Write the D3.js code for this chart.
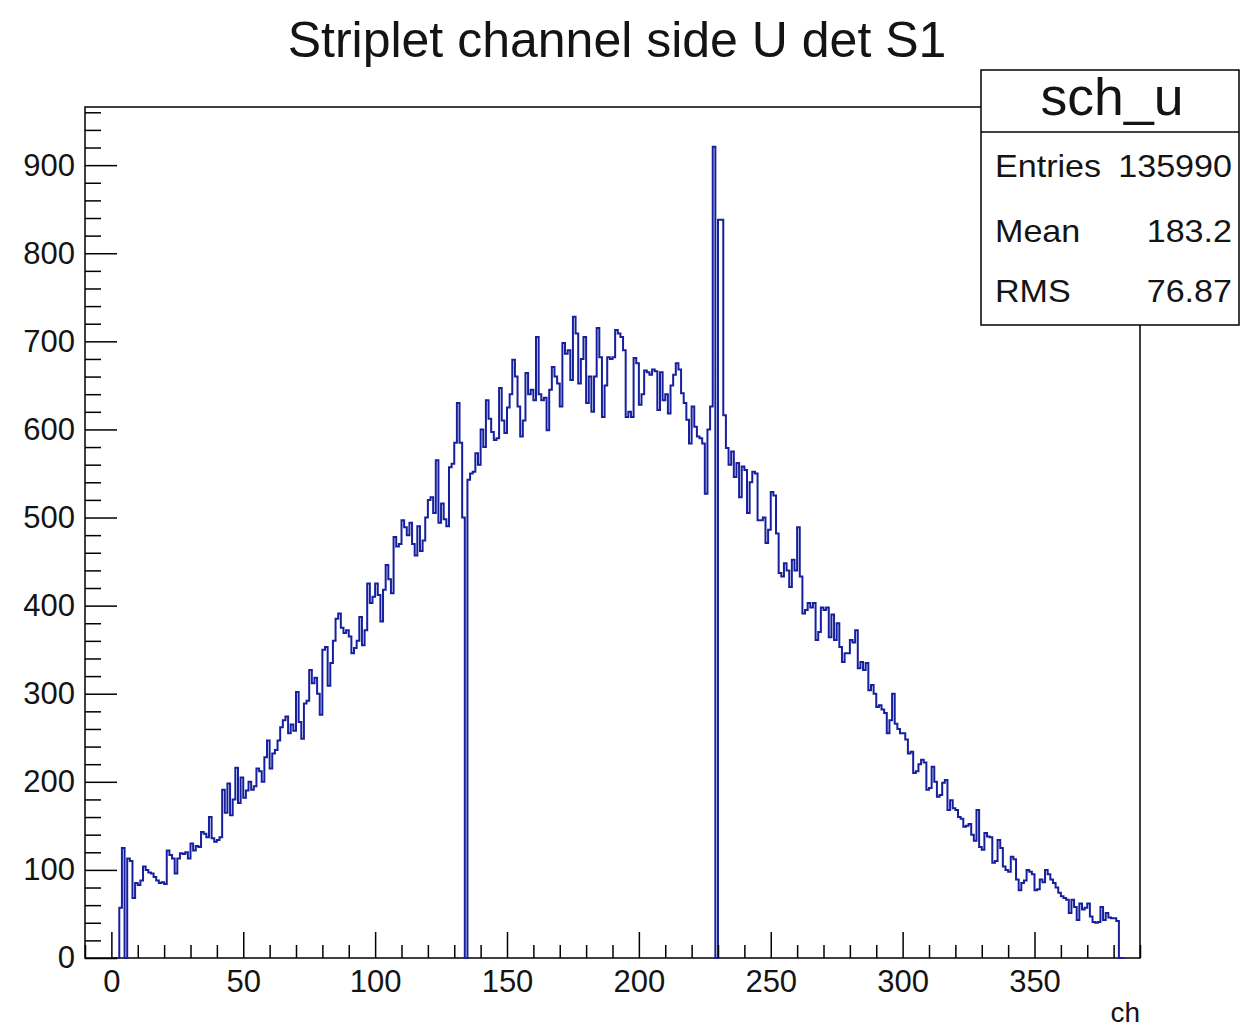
<!DOCTYPE html>
<html>
<head>
<meta charset="utf-8">
<script src="https://cdn.jsdelivr.net/npm/d3@7"></script>
<style>
  html, body { margin: 0; padding: 0; background: #fff; }
  svg text { font-family: "Liberation Sans", Arial, Helvetica, sans-serif; }
</style>
</head>
<body>
<svg id="chart" width="1240" height="1031"></svg>
<script>
// ---- data ----
const title = "Striplet channel side U det S1";
const histName = "sch_u";
const xTitle = "ch";
const statLabels = ["Entries", "Mean", "RMS"];
const statValues = ["135990", "183.2", "76.87"];
const xMajorTicks = [0, 50, 100, 150, 200, 250, 300, 350];
const yMajorTicks = [0, 100, 200, 300, 400, 500, 600, 700, 800, 900];
const xDomain = [-10, 390];
const yDomain = [0, 966];
// counts per channel, channel i covers [i, i+1)
const counts = [
  0, 0, 0, 57, 125, 0, 113, 110, 68, 85,
  83, 88, 104, 100, 97, 96, 92, 88, 85, 86,
  84, 122, 117, 113, 96, 113, 119, 118, 120, 113,
  130, 122, 127, 126, 143, 141, 137, 160, 136, 132,
  134, 137, 191, 165, 198, 162, 180, 216, 176, 205,
  182, 190, 200, 191, 195, 215, 212, 200, 228, 247,
  215, 232, 236, 247, 262, 270, 274, 255, 265, 258,
  302, 268, 249, 289, 292, 327, 312, 318, 300, 276,
  350, 353, 309, 335, 360, 385, 391, 375, 369, 372,
  365, 346, 352, 360, 387, 355, 372, 425, 403, 410,
  425, 412, 382, 418, 446, 430, 414, 478, 467, 470,
  497, 489, 480, 494, 470, 457, 490, 462, 474, 500,
  520, 523, 505, 565, 494, 516, 498, 490, 557, 561,
  585, 630, 585, 500, 0, 543, 550, 552, 573, 560,
  600, 580, 633, 612, 597, 588, 590, 647, 610, 596,
  625, 640, 679, 660, 626, 592, 610, 664, 640, 645,
  633, 705, 640, 633, 636, 599, 645, 671, 660, 652,
  626, 698, 686, 690, 656, 728, 709, 652, 680, 705,
  630, 660, 620, 660, 715, 682, 614, 650, 682, 680,
  682, 713, 709, 705, 690, 614, 620, 614, 681, 675,
  628, 640, 667, 665, 662, 668, 666, 622, 665, 633,
  640, 618, 650, 662, 675, 668, 641, 630, 611, 584,
  626, 603, 592, 590, 584, 527, 600, 626, 921, 0,
  838, 838, 616, 579, 560, 575, 546, 562, 523, 558,
  554, 505, 540, 552, 550, 497, 497, 500, 471, 486,
  529, 525, 482, 437, 433, 448, 440, 421, 452, 440,
  489, 433, 391, 395, 403, 398, 403, 361, 370, 398,
  395, 398, 364, 390, 361, 380, 353, 336, 346, 346,
  361, 358, 372, 329, 336, 327, 335, 304, 310, 300,
  285, 287, 282, 278, 255, 270, 300, 266, 260, 255,
  255, 248, 232, 234, 210, 212, 220, 225, 222, 191,
  193, 217, 200, 183, 185, 199, 202, 168, 179, 170,
  168, 160, 158, 149, 150, 152, 140, 133, 168, 126,
  123, 142, 138, 137, 108, 110, 134, 125, 104, 100,
  98, 115, 112, 89, 77, 85, 88, 100, 98, 95,
  77, 78, 89, 86, 100, 95, 89, 85, 80, 74,
  70, 68, 66, 51, 66, 58, 43, 62, 55, 57,
  62, 47, 41, 40, 41, 58, 43, 51, 46, 45,
  45, 42, 0, 0
];

// ---- layout ----
const frame = { left: 85, right: 1140, top: 107, bottom: 958 };
const svg = d3.select("#chart");
const x = d3.scaleLinear().domain(xDomain).range([frame.left, frame.right]);
const y = d3.scaleLinear().domain(yDomain).range([frame.bottom, frame.top]);
const ink = "#000";
const txt = "#141414";
const lineColor = "#16209e";

// frame
svg.append("rect")
  .attr("x", frame.left).attr("y", frame.top)
  .attr("width", frame.right - frame.left).attr("height", frame.bottom - frame.top)
  .attr("fill", "none").attr("stroke", ink).attr("stroke-width", 1.5);

// histogram
const pts = [[0, 0]];
counts.forEach((v, i) => pts.push([i, v]));
pts.push([counts.length, counts[counts.length - 1]]);
pts.push([counts.length, 0]);
const line = d3.line().x(d => x(d[0])).y(d => y(d[1])).curve(d3.curveStepAfter);
svg.append("path").attr("d", line(pts))
  .attr("fill", "none").attr("stroke", lineColor).attr("stroke-width", 2);

// y axis: major + minor ticks inside the frame
const yMinor = d3.range(0, yDomain[1], 20).filter(v => v % 100 !== 0);
const yAxisMajor = d3.axisLeft(y).tickValues(yMajorTicks).tickSizeInner(-32).tickSizeOuter(0).tickPadding(10);
const yAxisMinor = d3.axisLeft(y).tickValues(yMinor).tickSizeInner(-16).tickSizeOuter(0).tickFormat("");
const gy = svg.append("g").attr("transform", `translate(${frame.left},0)`).call(yAxisMajor);
svg.append("g").attr("transform", `translate(${frame.left},0)`).call(yAxisMinor);
svg.selectAll(".domain").remove();
gy.selectAll("text").attr("font-size", 31).attr("fill", txt)
  .attr("font-family", '"Liberation Sans", Arial, sans-serif');

// x axis
const xMinor = d3.range(-10, 391, 10).filter(v => v % 50 !== 0);
const xAxisMajor = d3.axisBottom(x).tickValues(xMajorTicks).tickSizeInner(-26).tickSizeOuter(0).tickPadding(12);
const xAxisMinor = d3.axisBottom(x).tickValues(xMinor).tickSizeInner(-13).tickSizeOuter(0).tickFormat("");
const gx = svg.append("g").attr("transform", `translate(0,${frame.bottom})`).call(xAxisMajor);
svg.append("g").attr("transform", `translate(0,${frame.bottom})`).call(xAxisMinor);
svg.selectAll(".domain").remove();
gx.selectAll("text").attr("font-size", 31).attr("fill", txt)
  .attr("font-family", '"Liberation Sans", Arial, sans-serif');
svg.selectAll(".tick line").attr("stroke", ink).attr("stroke-width", 1.5);

// x title
svg.append("text").attr("transform", `translate(${frame.right},1022)`)
  .attr("text-anchor", "end").attr("font-size", 28).attr("fill", txt).text(xTitle);

// title
svg.append("text").attr("x", 617).attr("y", 57)
  .attr("text-anchor", "middle").attr("font-size", 50).attr("fill", txt).text(title);

// stats box
const box = { x: 981, y: 70, w: 258, h: 255, sep: 132 };
svg.append("rect").attr("x", box.x).attr("y", box.y).attr("width", box.w).attr("height", box.h)
  .attr("fill", "#fff").attr("stroke", ink).attr("stroke-width", 1.5);
svg.append("line").attr("x1", box.x).attr("x2", box.x + box.w).attr("y1", box.sep).attr("y2", box.sep)
  .attr("stroke", ink).attr("stroke-width", 1.5);
svg.append("text").attr("transform", `translate(${box.x + box.w / 2 + 2},115) scale(1.05,1)`)
  .attr("text-anchor", "middle").attr("font-size", 51).attr("fill", txt).text(histName);
const rowY = [177, 242, 302];
const sx = 1.1;
statLabels.forEach((lab, i) => {
  svg.append("text").attr("transform", `translate(995,${rowY[i]}) scale(${sx},1)`)
    .attr("font-size", 31).attr("fill", txt).text(lab);
  svg.append("text").attr("transform", `translate(1232,${rowY[i]}) scale(${sx},1)`)
    .attr("text-anchor", "end").attr("font-size", 31).attr("fill", txt).text(statValues[i]);
});
</script>
</body>
</html>
